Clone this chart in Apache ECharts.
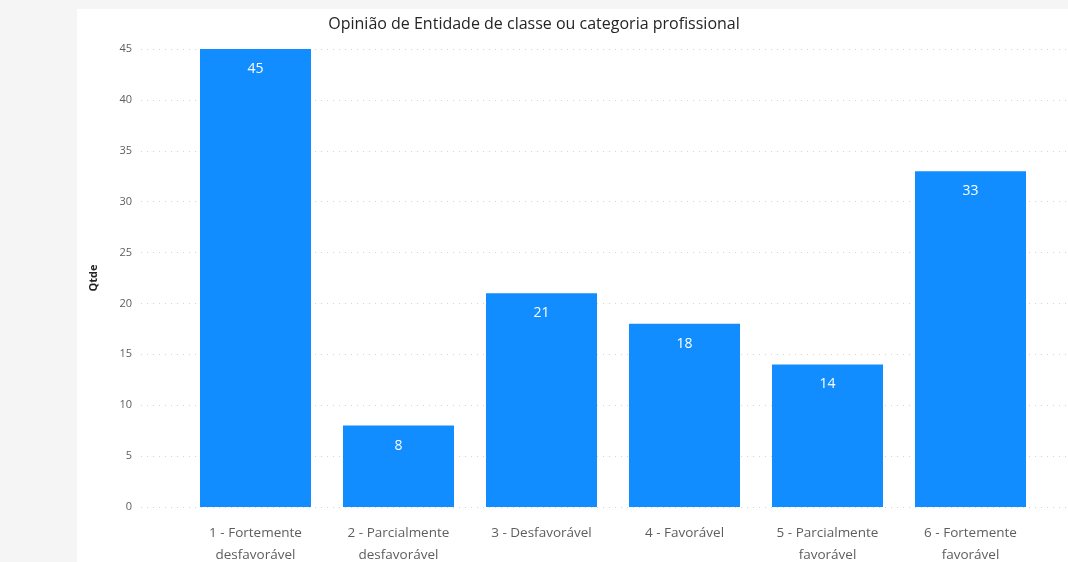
<!DOCTYPE html>
<html>
<head>
<meta charset="utf-8">
<script src="https://cdn.jsdelivr.net/npm/echarts@6/dist/echarts.min.js"></script>
<style>
  html, body { margin: 0; padding: 0; background: #f5f5f5; }
  #chart { width: 1068px; height: 562px; }
</style>
</head>
<body>
<div id="chart"></div>
<script>
const categories = [
  '1 - Fortemente\ndesfavorável',
  '2 - Parcialmente\ndesfavorável',
  '3 - Desfavorável',
  '4 - Favorável',
  '5 - Parcialmente\nfavorável',
  '6 - Fortemente\nfavorável'
]
const counts = [45, 8, 21, 18, 14, 33]
const yMin = 0
const yMax = 45
const yStep = 5

const chart = echarts.init(document.getElementById('chart'))

const fontFamily = '"Open Sans", "Noto Sans", sans-serif'

const option = {
  backgroundColor: '#f5f5f5',
  animation: false,
  graphic: [
    {
      type: 'rect',
      left: 77,
      top: 9,
      shape: { width: 991, height: 553 },
      style: { fill: '#ffffff' },
      z: -10
    }
  ],
  title: {
    text: 'Opinião de Entidade de classe ou categoria profissional',
    left: 'center',
    top: 11,
    textStyle: {
      fontFamily: fontFamily,
      fontSize: 16,
      fontWeight: 'normal',
      color: '#252423'
    }
  },
  grid: [
    // gridlines + y labels
    { left: 141, right: 0, top: 49, bottom: 55, outerBoundsMode: 'none' },
    // bars
    { left: 184, right: 26, top: 49, bottom: 55, outerBoundsMode: 'none' }
  ],
  xAxis: [
    {
      type: 'category',
      gridIndex: 0,
      data: [''],
      show: false
    },
    {
      type: 'category',
      gridIndex: 1,
      data: categories,
      axisLine: { show: false },
      axisTick: { show: false },
      axisLabel: {
        margin: 15,
        fontFamily: fontFamily,
        fontSize: 13.5,
        lineHeight: 22,
        color: '#605e5c',
        interval: 0
      }
    }
  ],
  yAxis: [
    {
      type: 'value',
      gridIndex: 0,
      min: yMin,
      max: yMax,
      interval: yStep,
      name: 'Qtde',
      nameLocation: 'middle',
      nameRotate: 90,
      nameGap: 42,
      nameTextStyle: {
        fontFamily: fontFamily,
        fontSize: 11,
        fontWeight: 'bold',
        color: '#252423'
      },
      axisLine: { show: false },
      axisTick: { show: false },
      axisLabel: {
        margin: 9,
        fontFamily: fontFamily,
        fontSize: 11,
        color: '#605e5c'
      },
      splitLine: {
        lineStyle: {
          color: '#d4d4d4',
          type: [1, 5],
          width: 1
        }
      }
    },
    {
      type: 'value',
      gridIndex: 1,
      min: yMin,
      max: yMax,
      interval: yStep,
      show: false,
      splitLine: { show: false }
    }
  ],
  series: [
    {
      type: 'bar',
      xAxisIndex: 1,
      yAxisIndex: 1,
      data: counts,
      barWidth: 111,
      itemStyle: { color: '#118dff' },
      label: {
        show: true,
        position: 'insideTop',
        distance: 13,
        fontFamily: fontFamily,
        fontSize: 14,
        color: '#ffffff'
      }
    }
  ]
}

chart.setOption(option)
</script>
</body>
</html>
